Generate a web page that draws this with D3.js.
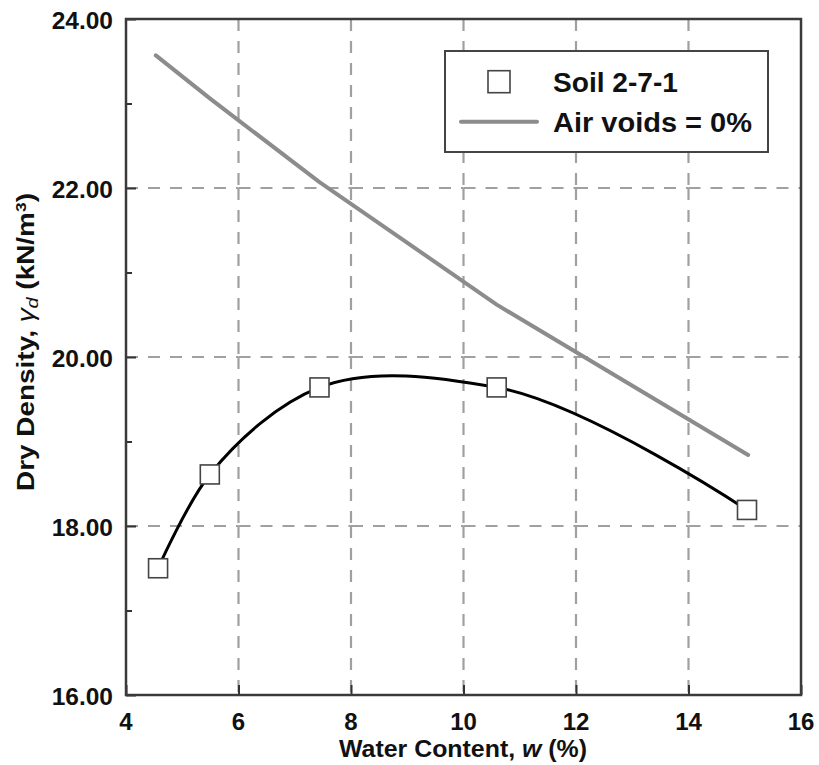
<!DOCTYPE html>
<html>
<head>
<meta charset="utf-8">
<script src="https://cdn.jsdelivr.net/npm/d3@7"></script>
<style>
  html, body { margin: 0; padding: 0; background: #fff; }
  svg { display: block; }
  text { font-family: "Liberation Sans", Arial, sans-serif; font-weight: bold; fill: #111; }
</style>
</head>
<body>
<svg id="chart" width="819" height="765"></svg>
<script>
// ---- data ----
const soilW = [4.57, 5.49, 7.44, 10.59, 15.04];
const soilGamma = [17.50, 18.61, 19.64, 19.64, 18.19];
const zavW = [4.53, 5.49, 7.44, 10.59, 15.06];
const zavGamma = [23.57, 23.06, 22.07, 20.62, 18.84];
const xTicks = [4, 6, 8, 10, 12, 14, 16];
const yTicks = [16, 18, 20, 22, 24];
const yMinorTicks = [17, 19, 21, 23];
const yTickLabels = ["16.00", "18.00", "20.00", "22.00", "24.00"];
const legendLabels = ["Soil 2-7-1", "Air voids = 0%"];

// ---- layout ----
const svg = d3.select("#chart");
const L = 126, R = 801, T = 19, B = 695;
const x = d3.scaleLinear().domain([4, 16]).range([L, R]);
const y = d3.scaleLinear().domain([16, 24]).range([B, T]);

// ---- grid (dashed segments starting at each intersection) ----
const grid = svg.append("g").attr("stroke", "#a0a0a0").attr("stroke-width", 2.2)
  .attr("stroke-dasharray", "12,10").attr("fill", "none");
const innerY = yTicks.slice(1, -1);
const innerX = xTicks.slice(1, -1);
innerY.forEach(v => {
  for (let i = 0; i < xTicks.length - 1; i++) {
    grid.append("line").attr("x1", x(xTicks[i])).attr("x2", x(xTicks[i + 1]))
      .attr("y1", y(v)).attr("y2", y(v));
  }
});
const yDesc = yTicks.slice().reverse();
innerX.forEach(v => {
  for (let i = 0; i < yDesc.length - 1; i++) {
    grid.append("line").attr("x1", x(v)).attr("x2", x(v))
      .attr("y1", y(yDesc[i])).attr("y2", y(yDesc[i + 1]));
  }
});

// ---- axes ----
const axL = svg.append("g").attr("transform", `translate(${L},0)`)
  .call(d3.axisLeft(y).tickValues(yTicks).tickSize(-10).tickFormat(""));
const axLm = svg.append("g").attr("transform", `translate(${L},0)`)
  .call(d3.axisLeft(y).tickValues(yMinorTicks).tickSize(-6).tickFormat(""));
const axB = svg.append("g").attr("transform", `translate(0,${B})`)
  .call(d3.axisBottom(x).tickValues(xTicks).tickSize(-10).tickFormat(""));
[axL, axLm, axB].forEach(g => {
  g.selectAll(".domain").remove();
  g.selectAll("line").attr("stroke", "#333").attr("stroke-width", 2);
});
// frame
svg.append("rect").attr("x", L).attr("y", T).attr("width", R - L).attr("height", B - T)
  .attr("fill", "none").attr("stroke", "#3a3a3a").attr("stroke-width", 2.5);

// tick labels
svg.append("g").selectAll("text").data(yTicks).join("text")
  .attr("x", 113).attr("y", d => y(d) + 1).attr("text-anchor", "end")
  .attr("dominant-baseline", "central").attr("font-size", 24.5)
  .text((d, i) => yTickLabels[i]);
svg.append("g").selectAll("text").data(xTicks).join("text")
  .attr("x", d => x(d)).attr("y", 729.5).attr("text-anchor", "middle")
  .attr("font-size", 24).text(d => d);

// ---- zero air voids line ----
const zavData = zavW.map((w, i) => [w, zavGamma[i]]);
svg.append("path").datum(zavData)
  .attr("d", d3.line().x(d => x(d[0])).y(d => y(d[1])))
  .attr("fill", "none").attr("stroke", "#8c8c8c").attr("stroke-width", 4)
  .attr("stroke-linecap", "round").attr("stroke-linejoin", "round");

// ---- soil compaction curve ----
const soilData = soilW.map((w, i) => [w, soilGamma[i]]);
svg.append("path").datum(soilData)
  .attr("d", d3.line().x(d => x(d[0])).y(d => y(d[1])).curve(d3.curveCatmullRom.alpha(1)))
  .attr("fill", "none").attr("stroke", "#000").attr("stroke-width", 3);
const S = 19;
svg.append("g").selectAll("rect").data(soilData).join("rect")
  .attr("x", d => x(d[0]) - S / 2).attr("y", d => y(d[1]) - S / 2)
  .attr("width", S).attr("height", S)
  .attr("fill", "#fff").attr("stroke", "#444").attr("stroke-width", 1.6);

// ---- legend ----
const lg = svg.append("g");
lg.append("rect").attr("x", 445).attr("y", 51).attr("width", 323).attr("height", 101)
  .attr("fill", "#fff").attr("stroke", "#444").attr("stroke-width", 2);
lg.append("rect").attr("x", 499 - 11).attr("y", 81.7 - 11).attr("width", 22).attr("height", 22)
  .attr("fill", "#fff").attr("stroke", "#444").attr("stroke-width", 1.6);
lg.append("line").attr("x1", 461).attr("x2", 537).attr("y1", 121.7).attr("y2", 121.7)
  .attr("stroke", "#8c8c8c").attr("stroke-width", 4).attr("stroke-linecap", "round");
lg.selectAll("text.lab").data(legendLabels).join("text").attr("class", "lab")
  .attr("x", 553).attr("y", (d, i) => 81.7 + i * 40 + 1)
  .attr("dominant-baseline", "central").attr("font-size", 28)
  .attr("textLength", (d, i) => i === 0 ? 125 : 199).attr("lengthAdjust", "spacingAndGlyphs")
  .text(d => d);

// ---- axis titles ----
const xt = svg.append("text").attr("x", 463).attr("y", 757).attr("text-anchor", "middle")
  .attr("font-size", 24).attr("textLength", 248).attr("lengthAdjust", "spacingAndGlyphs");
xt.append("tspan").text("Water Content, ");
xt.append("tspan").attr("font-style", "italic").text("w");
xt.append("tspan").text(" (%)");

const yt = svg.append("text").attr("transform", "translate(34,342) rotate(-90)")
  .attr("text-anchor", "middle").attr("font-size", 24)
  .attr("textLength", 298).attr("lengthAdjust", "spacingAndGlyphs");
yt.append("tspan").text("Dry Density, ");
yt.append("tspan").attr("font-style", "italic").attr("font-weight", "normal").text("γ");
yt.append("tspan").attr("font-style", "italic").attr("font-weight", "normal")
  .attr("font-size", 17).attr("dy", 4).text("d");
yt.append("tspan").attr("dy", -4).text(" (kN/m");
yt.append("tspan").attr("font-size", 15).attr("dy", -8).text("3");
yt.append("tspan").attr("dy", 8).text(")");
</script>
</body>
</html>
